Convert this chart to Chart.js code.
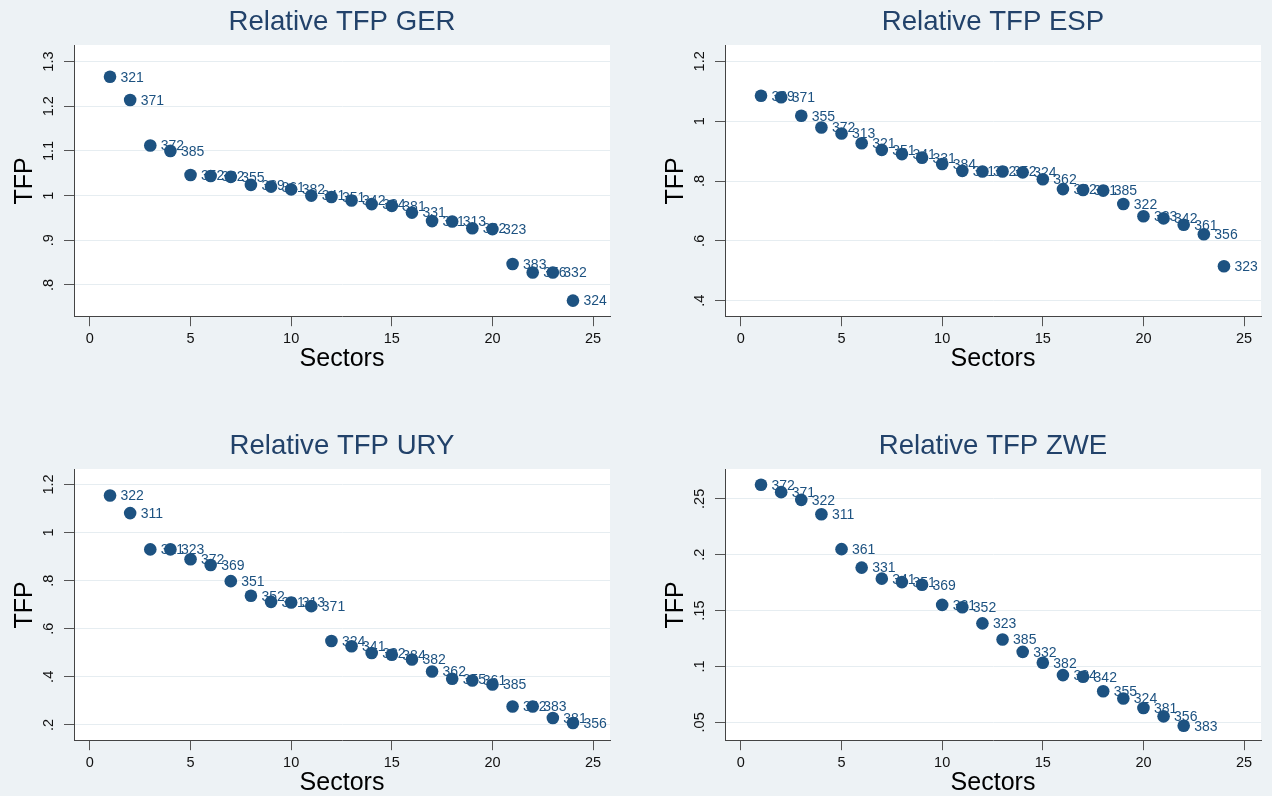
<!DOCTYPE html>
<html>
<head>
<meta charset="utf-8">
<script src="https://cdn.jsdelivr.net/npm/chart.js@4.4.1/dist/chart.umd.min.js"></script>
<style>
html, body { margin: 0; padding: 0; width: 1272px; height: 796px; overflow: hidden; background: #edf2f5; }
canvas { position: absolute; }
</style>
</head>
<body>
<canvas id="ger" width="622" height="380" style="left:0px;top:0px"></canvas>
<canvas id="esp" width="622" height="380" style="left:651px;top:0px"></canvas>
<canvas id="ury" width="622" height="380" style="left:0px;top:424px"></canvas>
<canvas id="zwe" width="622" height="380" style="left:651px;top:424px"></canvas>
<script>
// sector rank on x, relative TFP on y, ISIC code as point label
var sectors24 = [1,2,3,4,5,6,7,8,9,10,11,12,13,14,15,16,17,18,19,20,21,22,23,24];
var sectors22 = [1,2,3,4,5,6,7,8,9,10,11,12,13,14,15,16,17,18,19,20,21,22];

var tfpGER = [1.266,1.214,1.112,1.100,1.046,1.044,1.042,1.024,1.020,1.014,1.000,0.997,0.989,0.981,0.977,0.962,0.943,0.942,0.927,0.925,0.847,0.828,0.828,0.765];
var codesGER = ['321','371','372','385','352','322','355','369','361','382','341','351','342','384','381','331','311','313','362','323','383','356','332','324'];

var tfpESP = [1.085,1.080,1.018,0.979,0.959,0.926,0.904,0.890,0.878,0.857,0.834,0.832,0.832,0.829,0.806,0.773,0.770,0.768,0.723,0.682,0.675,0.654,0.622,0.515];
var codesESP = ['369','371','355','372','313','321','351','341','331','384','311','382','352','324','362','332','381','385','322','383','342','361','356','323'];

var tfpURY = [1.154,1.081,0.930,0.930,0.889,0.865,0.798,0.737,0.712,0.709,0.694,0.549,0.527,0.499,0.492,0.472,0.422,0.392,0.385,0.368,0.277,0.277,0.229,0.208];
var codesURY = ['322','311','321','323','372','369','351','352','331','313','371','324','341','332','384','382','362','355','361','385','342','383','381','356'];

var tfpZWE = [0.2626,0.2560,0.2491,0.2362,0.2050,0.1885,0.1786,0.1755,0.1732,0.1551,0.1530,0.1386,0.1241,0.1131,0.1034,0.0923,0.0908,0.0779,0.0714,0.0629,0.0554,0.0470];
var codesZWE = ['372','371','322','311','361','331','341','351','369','321','352','323','385','332','382','384','342','355','324','381','356','383'];

var xTicks = [0,5,10,15,20,25];
var yTicksGER = [0.8,0.9,1.0,1.1,1.2,1.3];
var yLabelsGER = ['.8','.9','1','1.1','1.2','1.3'];
var yTicksESP = [0.4,0.6,0.8,1.0,1.2];
var yLabelsESP = ['.4','.6','.8','1','1.2'];
var yTicksURY = [0.2,0.4,0.6,0.8,1.0,1.2];
var yLabelsURY = ['.2','.4','.6','.8','1','1.2'];
var yTicksZWE = [0.05,0.10,0.15,0.20,0.25];
var yLabelsZWE = ['.05','.1','.15','.2','.25'];

var FONT = '"Liberation Sans", Arial, Helvetica, sans-serif';
var NAVY = '#1d5281';

var plotBg = {
	id: 'plotBg',
	beforeDraw: function(chart) {
		var a = chart.chartArea, ctx = chart.ctx;
		ctx.save();
		ctx.fillStyle = '#ffffff';
		ctx.fillRect(a.left, a.top, a.right - a.left, a.bottom - a.top);
		ctx.restore();
	}
};

// labels go under the markers, as in the original
var pointLabels = {
	id: 'pointLabels',
	beforeDatasetsDraw: function(chart) {
		var ctx = chart.ctx;
		var codes = chart.config.options.plugins.pointLabels.codes;
		var meta = chart.getDatasetMeta(0);
		ctx.save();
		ctx.font = '14px ' + FONT;
		ctx.fillStyle = NAVY;
		ctx.textAlign = 'left';
		ctx.textBaseline = 'middle';
		meta.data.forEach(function(el, i) {
			ctx.fillText(codes[i], el.x + 10.5, el.y + 1);
		});
		ctx.restore();
	}
};

function panel(id, title, xs, ys, codes, yMin, yMax, yTicks, yLabels) {
	var pts = xs.map(function(x, i) { return { x: x, y: ys[i] }; });
	new Chart(document.getElementById(id), {
		type: 'scatter',
		data: {
			datasets: [{
				data: pts,
				backgroundColor: NAVY,
				borderColor: NAVY,
				borderWidth: 0,
				pointRadius: 6.3,
				pointHoverRadius: 6.3
			}]
		},
		plugins: [plotBg, pointLabels],
		options: {
			responsive: false,
			animation: false,
			layout: { padding: { left: 0, right: 12, top: 0, bottom: 0 } },
			plugins: {
				legend: { display: false },
				tooltip: { enabled: false },
				pointLabels: { codes: codes },
				title: {
					display: true,
					fullSize: false,
					text: title,
					color: '#22426a',
					font: { family: FONT, size: 27.6, weight: 'normal' },
					padding: { top: 5.6, bottom: 6.3 }
				}
			},
			scales: {
				x: {
					type: 'linear',
					min: -0.79,
					max: 25.84,
					afterBuildTicks: function(s) { s.ticks = xTicks.map(function(v) { return { value: v }; }); },
					afterFit: function(s) { s.height = 63.3; },
					ticks: {
						autoSkip: false,
						color: '#111',
						font: { family: FONT, size: 14.5 },
						padding: 4,
						maxRotation: 0
					},
					grid: { drawOnChartArea: false, drawTicks: true, tickLength: 9.5, tickColor: '#555', tickWidth: 1 },
					border: { display: true, color: '#444', width: 1 },
					title: {
						display: true,
						text: 'Sectors',
						color: '#000',
						font: { family: FONT, size: 25 },
						padding: { top: 0, bottom: 5.5 }
					}
				},
				y: {
					type: 'linear',
					min: yMin,
					max: yMax,
					afterBuildTicks: function(s) { s.ticks = yTicks.map(function(v) { return { value: v }; }); },
					afterFit: function(s) { s.width = 74; },
					ticks: {
						autoSkip: false,
						color: '#111',
						font: { family: FONT, size: 14.5 },
						padding: 5.2,
						minRotation: 90,
						maxRotation: 90,
						crossAlign: 'center',
						callback: function(v, i) { return yLabels[i]; }
					},
					grid: { color: '#e6edf1', lineWidth: 1, drawTicks: true, tickLength: 10, tickColor: '#555', tickWidth: 1 },
					border: { display: true, color: '#444', width: 1 },
					title: {
						display: true,
						text: 'TFP',
						color: '#000',
						font: { family: FONT, size: 25 },
						padding: { top: 10.5, bottom: 0 }
					}
				}
			}
		}
	});
}

panel('ger', 'Relative TFP GER', sectors24, tfpGER, codesGER, 0.729, 1.337, yTicksGER, yLabelsGER);
panel('esp', 'Relative TFP ESP', sectors24, tfpESP, codesESP, 0.3465, 1.2545, yTicksESP, yLabelsESP);
panel('ury', 'Relative TFP URY', sectors24, tfpURY, codesURY, 0.1345, 1.2643, yTicksURY, yLabelsURY);
panel('zwe', 'Relative TFP ZWE', sectors22, tfpZWE, codesZWE, 0.0336, 0.2767, yTicksZWE, yLabelsZWE);
</script>
</body>
</html>
